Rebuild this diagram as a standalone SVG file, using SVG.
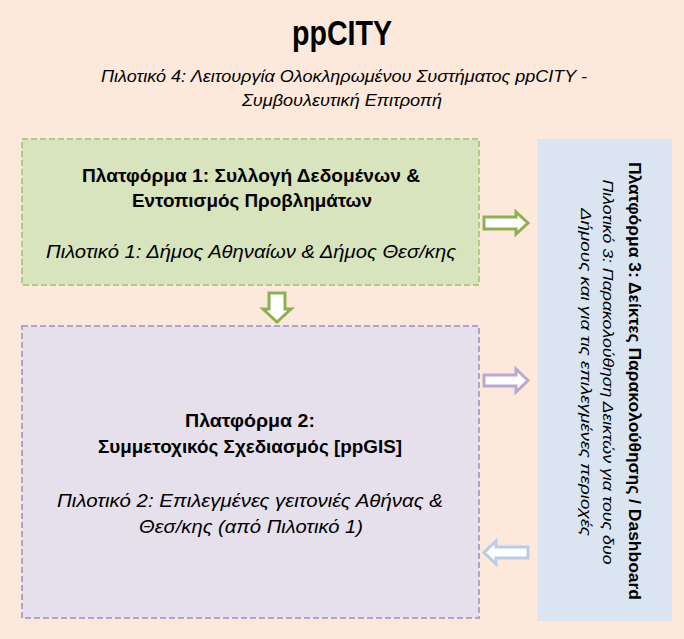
<svg xmlns="http://www.w3.org/2000/svg" width="684" height="639" viewBox="0 0 684 639">
  <style>
    .t { font-family: "Liberation Sans", "Noto Sans", sans-serif; fill: #000; }
    .title { font-size: 35px; font-weight: bold; }
    .b { font-size: 19px; font-weight: bold; }
    .i { font-size: 19px; font-style: italic; }
    .sub { font-size: 16px; font-style: italic; }
    .vb { font-size: 16px; font-weight: bold; }
    .vi { font-size: 15px; font-style: italic; }
    .arrow { fill: #ffffff; stroke-width: 3; stroke-linejoin: miter; }
  </style>
  <rect x="0" y="0" width="684" height="639" fill="#fde9db"/>

  <g id="header">
    <text class="t title" x="342" y="45" text-anchor="middle" textLength="100" lengthAdjust="spacingAndGlyphs">ppCITY</text>
    <text class="t sub" x="344" y="82" text-anchor="middle" textLength="486" lengthAdjust="spacingAndGlyphs">Πιλοτικό 4: Λειτουργία Ολοκληρωμένου Συστήματος ppCITY -</text>
    <text class="t sub" x="342" y="106" text-anchor="middle" textLength="200" lengthAdjust="spacingAndGlyphs">Συμβουλευτική Επιτροπή</text>
  </g>

  <g id="platform1">
    <rect x="22" y="139" width="457" height="146" fill="#d7e4bd" stroke="#b2cb83" stroke-width="2" stroke-dasharray="6 3"/>
    <text class="t b" x="251" y="182" text-anchor="middle" textLength="338" lengthAdjust="spacingAndGlyphs">Πλατφόρμα 1: Συλλογή Δεδομένων &amp;</text>
    <text class="t b" x="252" y="207" text-anchor="middle" textLength="240" lengthAdjust="spacingAndGlyphs">Εντοπισμός Προβλημάτων</text>
    <text class="t i" x="251" y="258" text-anchor="middle" textLength="410" lengthAdjust="spacingAndGlyphs">Πιλοτικό 1: Δήμος Αθηναίων &amp; Δήμος Θεσ/κης</text>
  </g>

  <g id="platform2">
    <rect x="22" y="326" width="457" height="292" fill="#e5e0ec" stroke="#b3a2c7" stroke-width="2" stroke-dasharray="6 3"/>
    <text class="t b" x="250" y="427" text-anchor="middle" textLength="130" lengthAdjust="spacingAndGlyphs">Πλατφόρμα 2:</text>
    <text class="t b" x="250" y="453" text-anchor="middle" textLength="304" lengthAdjust="spacingAndGlyphs">Συμμετοχικός Σχεδιασμός [ppGIS]</text>
    <text class="t i" x="250" y="507" text-anchor="middle" textLength="386" lengthAdjust="spacingAndGlyphs">Πιλοτικό 2: Επιλεγμένες γειτονιές Αθήνας &amp;</text>
    <text class="t i" x="251" y="533" text-anchor="middle" textLength="224" lengthAdjust="spacingAndGlyphs">Θεσ/κης (από Πιλοτικό 1)</text>
  </g>

  <g id="platform3">
    <rect x="537" y="139" width="135" height="482" fill="#dbe5f1"/>
    <text class="t vb" transform="translate(629,381) rotate(90)" text-anchor="middle" textLength="438" lengthAdjust="spacingAndGlyphs">Πλατφόρμα 3: Δείκτες Παρακολούθησης / Dashboard</text>
    <text class="t vi" transform="translate(603,372) rotate(90)" text-anchor="middle" textLength="385" lengthAdjust="spacingAndGlyphs">Πιλοτικό 3: Παρακολούθηση Δεικτών για τους δυο</text>
    <text class="t vi" transform="translate(581,372) rotate(90)" text-anchor="middle" textLength="328" lengthAdjust="spacingAndGlyphs">Δήμους και για τις επιλεγμένες περιοχές</text>
  </g>

  <g id="connectors">
    <path class="arrow" stroke="#8eb050" d="M484,217 H516 V212 L528,223 L516,234 V229 H484 Z"/>
    <path class="arrow" stroke="#8eb050" d="M269,293 H285 V309 H291 L277,322 L263,309 H269 Z"/>
    <path class="arrow" stroke="#b9a9d2" d="M484,375 H516 V369 L528,380.5 L516,392 V386 H484 Z"/>
    <path class="arrow" stroke="#b9cde5" d="M528,547 H496 V541 L484,552.5 L496,564 V558 H528 Z"/>
  </g>
</svg>
